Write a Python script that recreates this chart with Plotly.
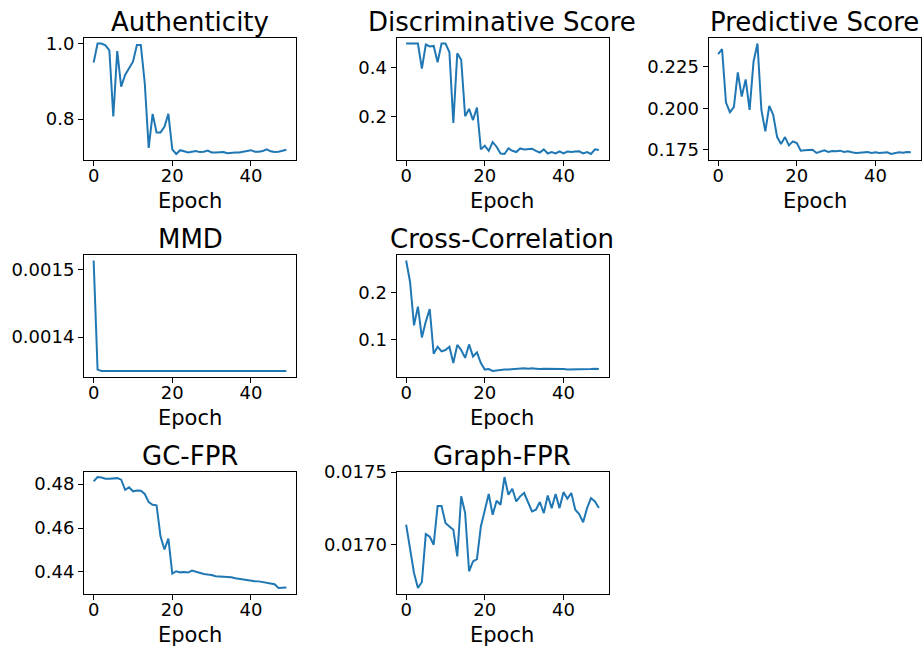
import plotly.graph_objects as go

epochs = list(range(50))

authenticity = [0.950, 1.000, 1.000, 0.995, 0.982, 0.807, 0.980, 0.886, 0.917, 0.934,
                0.952, 0.996, 0.996, 0.895, 0.724, 0.814, 0.765, 0.765, 0.780, 0.814,
                0.720, 0.708, 0.718, 0.715, 0.712, 0.714, 0.716, 0.713, 0.714, 0.717,
                0.712, 0.712, 0.713, 0.713, 0.710, 0.712, 0.712, 0.712, 0.714, 0.716,
                0.718, 0.714, 0.714, 0.716, 0.720, 0.715, 0.713, 0.714, 0.716, 0.719]

discriminative = [0.500, 0.500, 0.500, 0.500, 0.396, 0.496, 0.488, 0.490, 0.423, 0.500,
                  0.500, 0.465, 0.172, 0.460, 0.433, 0.200, 0.230, 0.184, 0.236, 0.063,
                  0.078, 0.057, 0.093, 0.074, 0.046, 0.044, 0.067, 0.057, 0.052, 0.067,
                  0.063, 0.063, 0.066, 0.057, 0.050, 0.063, 0.046, 0.052, 0.046, 0.055,
                  0.046, 0.054, 0.052, 0.054, 0.055, 0.046, 0.052, 0.044, 0.063, 0.060]

predictive = [0.2326, 0.2356, 0.2034, 0.1976, 0.2006, 0.2216, 0.2070, 0.2174, 0.1990, 0.2280,
              0.2390, 0.1990, 0.1860, 0.2014, 0.1960, 0.1826, 0.1784, 0.1826, 0.1776, 0.1800,
              0.1790, 0.1744, 0.1746, 0.1748, 0.1750, 0.1730, 0.1738, 0.1746, 0.1736, 0.1742,
              0.1740, 0.1744, 0.1736, 0.1740, 0.1734, 0.1730, 0.1732, 0.1732, 0.1736, 0.1730,
              0.1734, 0.1730, 0.1732, 0.1734, 0.1724, 0.1728, 0.1734, 0.1732, 0.1736, 0.1734]

mmd = [0.001513, 0.001352] + [0.001350] * 48

cross_correlation = [0.269, 0.223, 0.130, 0.170, 0.104, 0.138, 0.165, 0.069, 0.084, 0.074,
                     0.077, 0.084, 0.049, 0.088, 0.077, 0.060, 0.089, 0.063, 0.072, 0.049,
                     0.035, 0.036, 0.032, 0.033, 0.035, 0.035, 0.035, 0.036, 0.037, 0.037,
                     0.038, 0.037, 0.038, 0.037, 0.036, 0.037, 0.037, 0.036, 0.036, 0.036,
                     0.036, 0.035, 0.035, 0.035, 0.035, 0.035, 0.035, 0.036, 0.037, 0.036]

gc_fpr = [0.4812, 0.4832, 0.4830, 0.4824, 0.4824, 0.4826, 0.4827, 0.4820, 0.4774, 0.4785,
          0.4767, 0.4771, 0.4770, 0.4755, 0.4718, 0.4706, 0.4703, 0.4562, 0.4502, 0.4552,
          0.4392, 0.4403, 0.4398, 0.4400, 0.4397, 0.4406, 0.4400, 0.4395, 0.4391, 0.4388,
          0.4386, 0.4380, 0.4379, 0.4379, 0.4380, 0.4376, 0.4371, 0.4368, 0.4365, 0.4362,
          0.4362, 0.4358, 0.4357, 0.4353, 0.4350, 0.4347, 0.4344, 0.4327, 0.4327, 0.4329]

graph_fpr = [0.017138, 0.016966, 0.016805, 0.016702, 0.016743, 0.017073, 0.017055, 0.017000, 0.017266, 0.017266,
             0.017149, 0.017126, 0.017103, 0.016920, 0.017333, 0.017218, 0.016817, 0.016885, 0.016901, 0.017126,
             0.017229, 0.017349, 0.017206, 0.017303, 0.017275, 0.017466, 0.017344, 0.017385, 0.017298, 0.017333,
             0.017356, 0.017294, 0.017229, 0.017241, 0.017294, 0.017218, 0.017339, 0.017252, 0.017349, 0.017252,
             0.017362, 0.017317, 0.017356, 0.017241, 0.017211, 0.017154, 0.017252, 0.017321, 0.017298, 0.017252]

x_tick_vals = [0, 20, 40]
x_tick_text = ["0", "20", "40"]

auth_ticks = [0.8, 1.0]
auth_labels = ["0.8", "1.0"]
disc_ticks = [0.2, 0.4]
disc_labels = ["0.2", "0.4"]
pred_ticks = [0.175, 0.200, 0.225]
pred_labels = ["0.175", "0.200", "0.225"]
mmd_ticks = [0.0014, 0.0015]
mmd_labels = ["0.0014", "0.0015"]
cc_ticks = [0.1, 0.2]
cc_labels = ["0.1", "0.2"]
gc_ticks = [0.44, 0.46, 0.48]
gc_labels = ["0.44", "0.46", "0.48"]
gf_ticks = [0.0170, 0.0175]
gf_labels = ["0.0170", "0.0175"]

titles = ["Authenticity", "Discriminative Score", "Predictive Score", "MMD",
          "Cross-Correlation", "GC-FPR", "Graph-FPR"]
x_label = "Epoch"

W, H = 924, 647
TOP = 10  # top margin in px
cols = [(84, 296), (396.5, 608.5), (708.5, 920.5)]
rows = [(38, 159.5), (255, 376.5), (471.5, 593.5)]


def py(y):
    """pixel y (from top of page) -> paper fraction inside margins"""
    return 1 - (y - TOP) / (H - TOP)


panels = [
    (titles[0], authenticity, 0, 0, auth_ticks, auth_labels),
    (titles[1], discriminative, 0, 1, disc_ticks, disc_labels),
    (titles[2], predictive, 0, 2, pred_ticks, pred_labels),
    (titles[3], mmd, 1, 0, mmd_ticks, mmd_labels),
    (titles[4], cross_correlation, 1, 1, cc_ticks, cc_labels),
    (titles[5], gc_fpr, 2, 0, gc_ticks, gc_labels),
    (titles[6], graph_fpr, 2, 1, gf_ticks, gf_labels),
]

FONT = "DejaVu Sans"
fig = go.Figure()
layout = dict(
    width=W, height=H,
    margin=dict(l=0, r=0, t=TOP, b=0, pad=0),
    paper_bgcolor="white", plot_bgcolor="white",
    showlegend=False,
    font=dict(family=FONT, color="black"),
)
annotations = []

xmin, xmax = min(epochs), max(epochs)
xpad = 0.05 * (xmax - xmin)

for i, (title, ys, r, c, tv, tt) in enumerate(panels):
    n = "" if i == 0 else str(i + 1)
    x0, x1 = cols[c]
    y0, y1 = rows[r]
    ymin, ymax = min(ys), max(ys)
    ypad = 0.05 * (ymax - ymin)
    fig.add_trace(go.Scatter(x=epochs, y=ys, mode="lines",
                             line=dict(color="#1f77b4", width=2),
                             xaxis="x" + n, yaxis="y" + n,
                             hoverinfo="skip"))
    common = dict(showline=True, linecolor="black", linewidth=1, mirror=True,
                  ticks="outside", ticklen=5, tickwidth=1, tickcolor="black",
                  showgrid=False, zeroline=False, automargin=False,
                  tickfont=dict(family=FONT, size=18, color="black"))
    layout["xaxis" + n] = dict(domain=[x0 / W, x1 / W], anchor="y" + n,
                               range=[xmin - xpad, xmax + xpad],
                               tickmode="array", tickvals=x_tick_vals, ticktext=x_tick_text,
                               ticklabelstandoff=-5,
                               **common)
    layout["yaxis" + n] = dict(domain=[py(y1), py(y0)], anchor="x" + n,
                               range=[ymin - ypad, ymax + ypad],
                               tickmode="array", tickvals=tv, ticktext=tt,
                               **common)
    cx = (x0 + x1) / 2 / W
    annotations.append(dict(text=title, x=cx, y=py(y0 - 16), xref="paper", yref="paper",
                            xanchor="center", yanchor="middle", showarrow=False,
                            font=dict(family=FONT, size=26, color="black")))
    annotations.append(dict(text=x_label, x=cx, y=py(y1 + 41.5), xref="paper", yref="paper",
                            xanchor="center", yanchor="middle", showarrow=False,
                            font=dict(family=FONT, size=21, color="black")))

layout["annotations"] = annotations
fig.update_layout(**layout)
fig.write_html("out.html")
